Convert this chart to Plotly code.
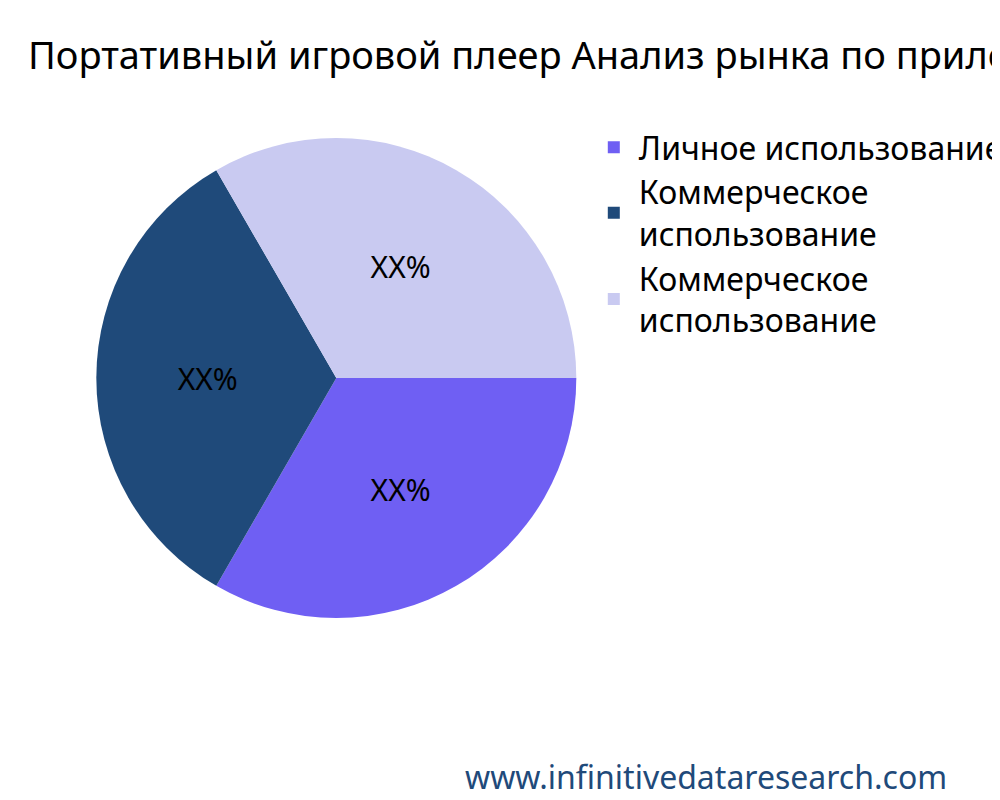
import plotly.graph_objects as go

labels = ["Личное использование", "Коммерческое<br>использование", "Коммерческое<br>использование "]
values = [1, 1, 1]
texts = ["XX%", "XX%", "XX%"]
colors = ["#6f5ff3", "#1f4a7a", "#c9caf1"]

fig = go.Figure(go.Pie(
    labels=labels, values=values, text=texts, texttemplate="%{text}",
    textinfo="text", sort=False, direction="clockwise", rotation=90,
    marker=dict(colors=colors), textfont=dict(size=30, color="black"),
    domain=dict(x=[0.092, 0.592], y=[0.225, 0.85]), hoverinfo="skip",
))
fig.update_layout(
    width=1000, height=800, margin=dict(l=0, r=0, t=0, b=0),
    font=dict(family="Noto Sans, Open Sans", color="black"),
    paper_bgcolor="white",
    title=dict(text="Портативный игровой плеер Анализ рынка по приложениям",
               x=0.02, xanchor="left", y=0.94, yanchor="middle", font=dict(size=38)),
    legend=dict(x=0.605, y=0.86, xanchor="left", yanchor="top", font=dict(size=32),
                itemwidth=40),
    annotations=[dict(text="www.infinitivedataresearch.com", x=0.98, y=0.04,
                      xref="paper", yref="paper", xanchor="right", yanchor="middle",
                      showarrow=False, font=dict(size=32, color="#1f4a7a"))],
)
fig.write_html("out.html")
